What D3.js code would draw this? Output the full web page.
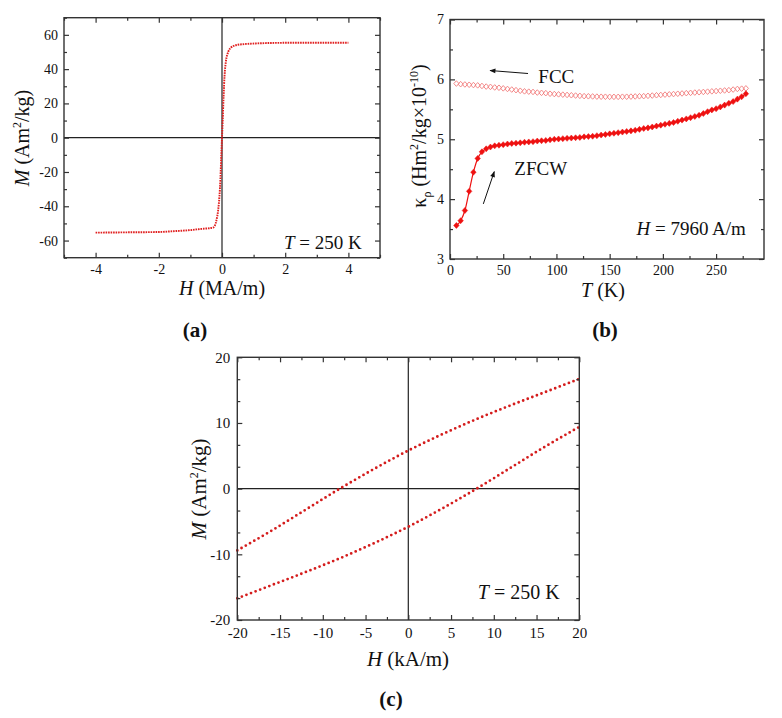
<!DOCTYPE html>
<html><head><meta charset="utf-8">
<script src="https://cdn.jsdelivr.net/npm/d3@7"></script>
<style>
body{margin:0;background:#fff}
text{font-family:"Liberation Serif","Times New Roman",serif;fill:#111}
</style>
</head><body>
<svg id="chart" width="782" height="718"></svg>
<script>
// ---------- Panel (a): M vs H at 250 K ----------
const aH = [-4, -3, -2, -1.5, -1, -0.6, -0.4, -0.27, -0.18, -0.12, -0.08, -0.05, -0.02, 0, 0.02, 0.05, 0.08, 0.12, 0.2, 0.28, 0.36, 0.5, 0.7, 1.1, 1.7, 2.5, 3.2, 4];
const aM = [-55.4, -55.2, -55.0, -54.5, -53.9, -53.1, -52.8, -52.3, -48.5, -42, -34, -24, -9, 0, 9, 24, 36, 44, 50.2, 52.5, 53.5, 54.2, 54.6, 55.0, 55.3, 55.4, 55.4, 55.4];
const aXTicks = [-4, -2, 0, 2, 4];
const aXMinor = [-5, -3, -1, 1, 3, 5];
const aYTicks = [-60, -40, -20, 0, 20, 40, 60];
const aYMinor = [-70, -50, -30, -10, 10, 30, 50, 70];

// ---------- Panel (b): susceptibility vs T ----------
const bT = [6,10,14,18,22,26,30,34,38,42,46,50,54,58,62,66,70,74,78,82,86,90,94,98,102,106,110,114,118,122,126,130,134,138,142,146,150,154,158,162,166,170,174,178,182,186,190,194,198,202,206,210,214,218,222,226,230,234,238,242,246,250,254,258,262,266,270,274,278];
const bZFCW = [3.56,3.64,3.81,4.13,4.45,4.68,4.79,4.84,4.87,4.89,4.90,4.91,4.92,4.93,4.935,4.94,4.95,4.955,4.96,4.97,4.975,4.98,4.99,5.00,5.005,5.01,5.015,5.02,5.025,5.03,5.04,5.045,5.05,5.06,5.07,5.08,5.09,5.10,5.11,5.12,5.13,5.14,5.15,5.165,5.18,5.19,5.205,5.22,5.235,5.25,5.265,5.28,5.30,5.32,5.34,5.36,5.38,5.40,5.43,5.46,5.49,5.51,5.54,5.57,5.60,5.63,5.67,5.71,5.76];
const bFCC = [5.93,5.92,5.915,5.91,5.905,5.90,5.89,5.88,5.875,5.865,5.86,5.85,5.84,5.83,5.82,5.81,5.80,5.795,5.79,5.78,5.775,5.77,5.76,5.755,5.75,5.745,5.74,5.735,5.73,5.725,5.72,5.718,5.715,5.712,5.71,5.71,5.708,5.708,5.708,5.71,5.71,5.712,5.715,5.718,5.72,5.725,5.73,5.735,5.74,5.745,5.75,5.755,5.76,5.765,5.77,5.775,5.78,5.785,5.79,5.795,5.80,5.805,5.81,5.815,5.82,5.83,5.84,5.845,5.85];
const bXTicks = [0, 50, 100, 150, 200, 250];
const bXMinor = [25, 75, 125, 175, 225, 275];
const bYTicks = [3, 4, 5, 6, 7];
const bYMinor = [3.5, 4.5, 5.5, 6.5];

// ---------- Panel (c): low-field loop ----------
const cH = [-20, -16, -12, -8, -4, 0, 4, 8, 12, 16, 20];
const cUpper = [-9.4, -6.4, -3.2, 0, 3.0, 5.8, 8.3, 10.6, 12.7, 14.7, 16.7];
const cLower = [-16.7, -14.7, -12.7, -10.6, -8.3, -5.8, -3.0, 0, 3.2, 6.4, 9.4];
const cXTicks = [-20, -15, -10, -5, 0, 5, 10, 15, 20];
const cXMinor = [-17.5, -12.5, -7.5, -2.5, 2.5, 7.5, 12.5, 17.5];
const cYTicks = [-20, -10, 0, 10, 20];
const cYMinor = [-50/3, -40/3, -20/3, -10/3, 10/3, 20/3, 40/3, 50/3];

const svg = d3.select("#chart");
const FONT = '"Liberation Serif","Times New Roman",serif';
const AX = "#333";

function axes(x, y, o) {
  const [xl, xr] = x.range(), [yb, yt] = y.range();
  const mk = (axis, tr, vals, size, labels) => {
    const g = svg.append("g").attr("transform", tr)
      .call(axis.tickValues(vals).tickSize(size).tickPadding(o.pad)
        .tickFormat(labels ? (d => String(d)) : ""));
    g.select(".domain").remove();
    g.selectAll("line").attr("stroke", AX).attr("stroke-width", 1.2);
    g.selectAll("text").attr("font-size", o.fs).attr("font-family", FONT).attr("fill", "#222");
  };
  mk(d3.axisBottom(x), `translate(0,${yb})`, o.xT, -5, true);
  mk(d3.axisBottom(x), `translate(0,${yb})`, o.xM, -3, false);
  mk(d3.axisTop(x), `translate(0,${yt})`, o.xT, -5, false);
  mk(d3.axisTop(x), `translate(0,${yt})`, o.xM, -3, false);
  mk(d3.axisLeft(y), `translate(${xl},0)`, o.yT, -5, true);
  mk(d3.axisLeft(y), `translate(${xl},0)`, o.yM, -3, false);
  mk(d3.axisRight(y), `translate(${xr},0)`, o.yT, -5, false);
  mk(d3.axisRight(y), `translate(${xr},0)`, o.yM, -3, false);
  svg.append("rect").attr("x", xl).attr("y", yt).attr("width", xr - xl).attr("height", yb - yt)
    .attr("fill", "none").attr("stroke", AX).attr("stroke-width", 1.4);
}
function originLines(x, y) {
  const [xl, xr] = x.range(), [yb, yt] = y.range();
  svg.append("line").attr("x1", xl).attr("x2", xr).attr("y1", y(0)).attr("y2", y(0)).attr("stroke", "#222").attr("stroke-width", 1.2);
  svg.append("line").attr("x1", x(0)).attr("x2", x(0)).attr("y1", yt).attr("y2", yb).attr("stroke", "#222").attr("stroke-width", 1.2);
}
function rich(parent, parts, attrs) {
  const t = parent.append("text");
  Object.entries(attrs).forEach(([k, v]) => t.attr(k, v));
  parts.forEach(p => {
    const s = t.append("tspan").text(p.t);
    if (p.i) s.attr("font-style", "italic");
    if (p.b) s.attr("font-weight", "bold");
    if (p.fs) s.attr("font-size", p.fs);
    if (p.dy) s.attr("dy", p.dy);
  });
  return t;
}
// square-ish diamond symbol
const diamond = {draw(ctx, size) {
  const r = Math.sqrt(size) / 2;
  ctx.moveTo(0, -r * 1.1); ctx.lineTo(r, 0); ctx.lineTo(0, r * 1.1); ctx.lineTo(-r, 0); ctx.closePath();
}};

// ===== Panel (a) =====
{
  const x = d3.scaleLinear().domain([-5, 5]).range([64, 380]);
  const y = d3.scaleLinear().domain([-70, 70]).range([257.7, 17.7]);
  originLines(x, y);
  svg.append("path").datum(aH.map((h, i) => [h, aM[i]]))
    .attr("d", d3.line().x(d => x(d[0])).y(d => y(d[1])).curve(d3.curveMonotoneX))
    .attr("fill", "none").attr("stroke", "#e01e1e").attr("stroke-width", 1.9)
    .attr("stroke-dasharray", "1.6,0.9");
  axes(x, y, {xT: aXTicks, xM: aXMinor, yT: aYTicks, yM: aYMinor, fs: 14, pad: 6});
  rich(svg, [{t: "H", i: 1}, {t: " (MA/m)"}], {x: 222, y: 295, "text-anchor": "middle", "font-size": 20});
  rich(svg, [{t: "M", i: 1}, {t: " (Am"}, {t: "2", fs: 12, dy: -8}, {t: "/kg)", dy: 8}],
    {transform: "translate(29,138) rotate(-90)", "text-anchor": "middle", "font-size": 20});
  rich(svg, [{t: "T", i: 1}, {t: " = 250 K"}], {x: x(4.42), y: y(-65.1), "text-anchor": "end", "font-size": 19});
  rich(svg, [{t: "("}, {t: "a", b: 1}, {t: ")"}], {x: 195, y: 337, "text-anchor": "middle", "font-size": 21, "font-weight": "bold"});
}

// ===== Panel (b) =====
{
  const x = d3.scaleLinear().domain([0, 295]).range([450, 764]);
  const y = d3.scaleLinear().domain([3, 7]).range([259, 19.5]);
  svg.append("g").selectAll("path").data(bT.map((t, i) => [t, bFCC[i]])).join("path")
    .attr("d", d3.symbol().type(diamond).size(26)).attr("transform", d => `translate(${x(d[0])},${y(d[1])})`)
    .attr("fill", "none").attr("stroke", "#f27c7c").attr("stroke-width", 0.9);
  svg.append("path").datum(bT.map((t, i) => [t, bZFCW[i]]))
    .attr("d", d3.line().x(d => x(d[0])).y(d => y(d[1])).curve(d3.curveMonotoneX))
    .attr("fill", "none").attr("stroke", "#ee1111").attr("stroke-width", 1.2);
  svg.append("g").selectAll("path").data(bT.map((t, i) => [t, bZFCW[i]])).join("path")
    .attr("d", d3.symbol().type(diamond).size(30)).attr("transform", d => `translate(${x(d[0])},${y(d[1])})`)
    .attr("fill", "#ee1111").attr("stroke", "#ee1111").attr("stroke-width", 0.5);
  axes(x, y, {xT: bXTicks, xM: bXMinor, yT: bYTicks, yM: bYMinor, fs: 14, pad: 6});
  const defs = svg.append("defs");
  defs.append("marker").attr("id", "ah").attr("viewBox", "0 0 10 10").attr("refX", 9).attr("refY", 5)
    .attr("markerWidth", 7).attr("markerHeight", 6).attr("orient", "auto")
    .append("path").attr("d", "M0,1 L10,5 L0,9 Z").attr("fill", "#111");
  svg.append("line").attr("x1", x(73.3)).attr("y1", y(6.098)).attr("x2", x(37.6)).attr("y2", y(6.148))
    .attr("stroke", "#111").attr("stroke-width", 1).attr("marker-end", "url(#ah)");
  svg.append("line").attr("x1", x(31.3)).attr("y1", y(3.92)).attr("x2", x(41.6)).attr("y2", y(4.46))
    .attr("stroke", "#111").attr("stroke-width", 1).attr("marker-end", "url(#ah)");
  rich(svg, [{t: "FCC"}], {x: x(83), y: y(5.934), "font-size": 19});
  rich(svg, [{t: "ZFCW"}], {x: x(60.4), y: y(4.403), "font-size": 19});
  rich(svg, [{t: "H", i: 1}, {t: " = 7960 A/m"}], {x: x(278), y: y(3.40), "text-anchor": "end", "font-size": 19});
  rich(svg, [{t: "T", i: 1}, {t: " (K)"}], {x: 603, y: 296.5, "text-anchor": "middle", "font-size": 20});
  rich(svg, [{t: "κ"}, {t: "ρ", fs: 12, dy: 5}, {t: " (Hm", dy: -5}, {t: "2", fs: 12, dy: -8}, {t: "/kg×10", dy: 8}, {t: "-10", fs: 12, dy: -8}, {t: ")", dy: 8}],
    {transform: "translate(426,136) rotate(-90)", "text-anchor": "middle", "font-size": 20});
  rich(svg, [{t: "("}, {t: "b", b: 1}, {t: ")"}], {x: 605, y: 337, "text-anchor": "middle", "font-size": 21, "font-weight": "bold"});
}

// ===== Panel (c) =====
{
  const x = d3.scaleLinear().domain([-20, 20]).range([237.3, 579.3]);
  const y = d3.scaleLinear().domain([-20, 20]).range([620, 357.3]);
  originLines(x, y);
  const ln = d3.line().x(d => x(d[0])).y(d => y(d[1])).curve(d3.curveMonotoneX);
  [cUpper, cLower].forEach(vals => {
    svg.append("path").datum(cH.map((h, i) => [h, vals[i]]))
      .attr("d", ln).attr("fill", "none").attr("stroke", "#d41c1c").attr("stroke-width", 2.8)
      .attr("stroke-linecap", "round").attr("stroke-dasharray", "0,4.9");
  });
  axes(x, y, {xT: cXTicks, xM: cXMinor, yT: cYTicks, yM: cYMinor, fs: 15, pad: 7});
  rich(svg, [{t: "H", i: 1}, {t: " (kA/m)"}], {x: 408, y: 666, "text-anchor": "middle", "font-size": 21});
  rich(svg, [{t: "M", i: 1}, {t: " (Am"}, {t: "2", fs: 12, dy: -8}, {t: "/kg)", dy: 8}],
    {transform: "translate(206,489) rotate(-90)", "text-anchor": "middle", "font-size": 21});
  rich(svg, [{t: "T", i: 1}, {t: " = 250 K"}], {x: x(17.7), y: y(-16.8), "text-anchor": "end", "font-size": 20});
  rich(svg, [{t: "("}, {t: "c", b: 1}, {t: ")"}], {x: 391, y: 706, "text-anchor": "middle", "font-size": 21, "font-weight": "bold"});
}
</script>
</body></html>
